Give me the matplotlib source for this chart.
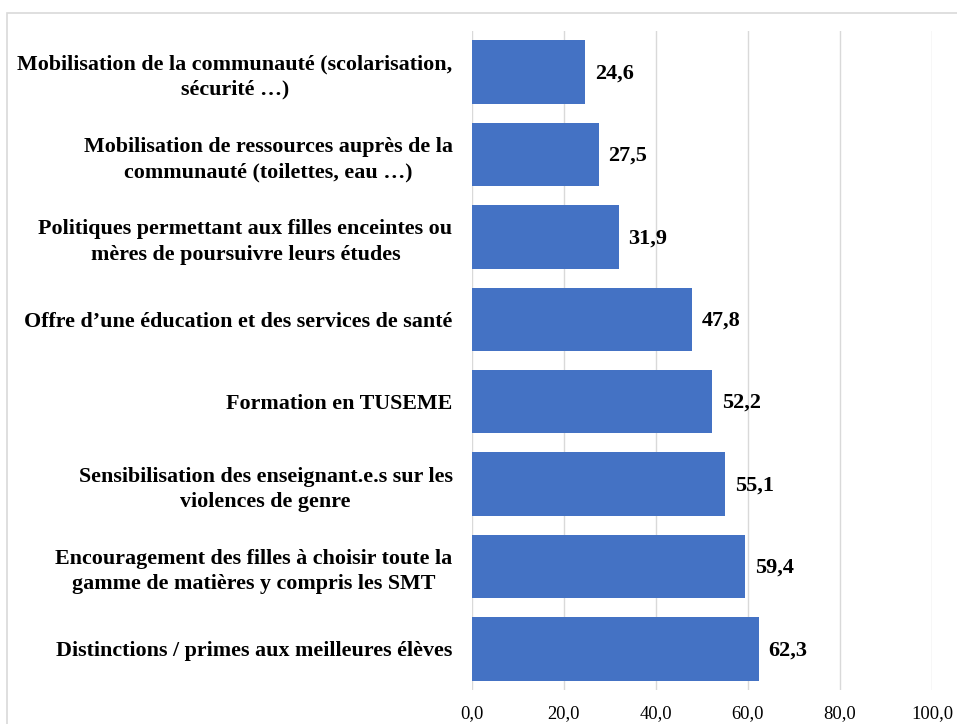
import matplotlib.pyplot as plt
import matplotlib.patches as mpatches

categories = [
    "Mobilisation de la communauté (scolarisation,\nsécurité …)",
    "Mobilisation de ressources auprès de la\ncommunauté (toilettes, eau …)",
    "Politiques permettant aux filles enceintes ou\nmères de poursuivre leurs études",
    "Offre d’une éducation et des services de santé",
    "Formation en TUSEME",
    "Sensibilisation des enseignant.e.s sur les\nviolences de genre",
    "Encouragement des filles à choisir toute la\ngamme de matières y compris les SMT",
    "Distinctions / primes aux meilleures élèves",
]
values = [24.6, 27.5, 31.9, 47.8, 52.2, 55.1, 59.4, 62.3]
xticks = [0, 20, 40, 60, 80, 100]

plt.rcParams['font.family'] = ['Liberation Serif', 'DejaVu Serif']

fig = plt.figure(figsize=(9.57, 7.24), dpi=100)
ax = fig.add_axes([472/957, 1-690/724, 460/957, 659/724])

# light border around chart area
fig.patches.append(mpatches.Rectangle((7/957, -0.1), 1.1, 1-13/724+0.1,
                                      transform=fig.transFigure, fill=False,
                                      edgecolor='#d9d9d9', lw=1.2))

n = len(categories)
ypos = [n-1-i for i in range(n)]
ax.barh(ypos, values, height=0.77, color='#4472C4', zorder=2)
for y, v in zip(ypos, values):
    ax.annotate(f"{v:.1f}".replace('.', ','), (v, y), xytext=(7, -1),
                textcoords='offset points', va='center', ha='left',
                fontsize=16, fontweight='bold')

ax.set_xlim(0, 100)
ax.set_ylim(-0.5, n-0.5)
ax.set_xticks(xticks)
ax.set_xticklabels([f"{t:.1f}".replace('.', ',') for t in xticks], fontsize=13.3)
ax.set_yticks(ypos)
ax.set_yticklabels(categories, fontsize=15.8, fontweight='bold',
                   multialignment='center', linespacing=1.35)
ax.tick_params(axis='y', length=0, pad=14)
ax.tick_params(axis='x', length=0, pad=11)
ax.grid(axis='x', color='#d9d9d9', lw=1, zorder=0)
for s in ax.spines.values():
    s.set_visible(False)

fig.savefig('out.png', dpi=100)
